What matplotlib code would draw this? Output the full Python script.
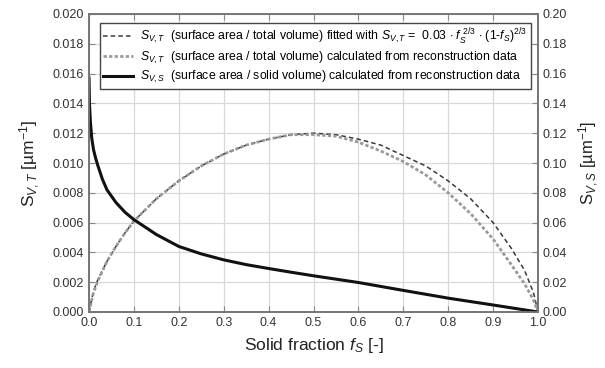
import matplotlib
matplotlib.use("Agg")
import matplotlib.pyplot as plt
import numpy as np

plt.rcParams['font.family'] = ['Liberation Sans', 'DejaVu Sans']
plt.rcParams['mathtext.fontset'] = 'custom'
plt.rcParams['mathtext.rm'] = 'Liberation Sans'
plt.rcParams['mathtext.it'] = 'Liberation Sans:italic'
plt.rcParams['mathtext.bf'] = 'Liberation Sans:bold'

# Solid fraction samples for the two S_V,T curves
fs_t = [0, 0.01, 0.02, 0.04, 0.06, 0.08, 0.1, 0.15, 0.2, 0.25, 0.3, 0.35, 0.4, 0.45,
        0.5, 0.55, 0.6, 0.65, 0.7, 0.75, 0.8, 0.85, 0.9, 0.94, 0.97, 0.99, 1.0]
# fitted S_V,T [1/um]
svt_fit = [0, 0.0014, 0.0022, 0.0034, 0.0044, 0.0053, 0.0061, 0.0076, 0.0088, 0.0098,
           0.0106, 0.0112, 0.0116, 0.0119, 0.0120, 0.0119, 0.0116, 0.0112, 0.0105,
           0.0098, 0.0088, 0.0076, 0.0060, 0.0043, 0.0028, 0.0013, 0.0]
# calculated S_V,T [1/um]
svt_calc = [0, 0.0013, 0.0021, 0.0034, 0.0044, 0.0053, 0.0061, 0.0076, 0.0088, 0.0098,
            0.0106, 0.0112, 0.0116, 0.0119, 0.0119, 0.0118, 0.0114, 0.0108, 0.0101,
            0.0092, 0.0080, 0.0066, 0.0049, 0.0032, 0.0019, 0.0008, 0.0]
# S_V,S (right axis) [1/um]
fs_s = [0, 0.001, 0.003, 0.006, 0.01, 0.015, 0.02, 0.03, 0.04, 0.06, 0.08, 0.1, 0.15,
        0.2, 0.25, 0.3, 0.35, 0.4, 0.45, 0.5, 0.6, 0.7, 0.8, 0.9, 1.0]
svs = [0.157, 0.140, 0.128, 0.117, 0.109, 0.103, 0.098, 0.089, 0.082, 0.0735, 0.067,
       0.062, 0.052, 0.0440, 0.0390, 0.0350, 0.0318, 0.0292, 0.0267, 0.0243, 0.0198,
       0.0145, 0.0093, 0.0047, 0.0]

xticks = np.round(np.arange(0, 1.01, 0.1), 1)
yticks_l = np.round(np.arange(0, 0.0201, 0.002), 3)
yticks_r = np.round(np.arange(0, 0.201, 0.02), 2)

fig = plt.figure(figsize=(6.05, 3.68), dpi=100)
ax = fig.add_axes([89/605, 1-312/368, (538-89)/605, (312-14)/368])
ax2 = ax.twinx()

l1, = ax.plot(fs_t, svt_fit, color='#3a3a3a', lw=1.1, ls=(0, (3, 2)))
l2, = ax.plot(fs_t, svt_calc, color='#9a9a9a', lw=2.0, ls=(0, (1.2, 0.8)))
l3, = ax2.plot(fs_s, svs, color='#111111', lw=2.2)

ax.set_xlim(0, 1)
ax.set_ylim(0, 0.02)
ax2.set_ylim(0, 0.2)
ax.set_xticks(xticks)
ax.set_xticklabels([f"{v:.1f}" for v in xticks])
ax.set_yticks(yticks_l)
ax.set_yticklabels([f"{v:.3f}" for v in yticks_l])
ax2.set_yticks(yticks_r)
ax2.set_yticklabels([f"{v:.2f}" for v in yticks_r])

ax.grid(True, color='#d8d8d8', lw=0.9)
ax.set_axisbelow(True)
for a in (ax, ax2):
    for s in a.spines.values():
        s.set_color('#777777')
        s.set_linewidth(1.3)
    a.tick_params(direction='in', length=4, width=0.8, color='#888888',
                  labelsize=9, labelcolor='#333333')
ax.tick_params(top=True)

ax.set_xlabel(r'Solid fraction $f_S$ [-]', fontsize=12.5, color='#222222', labelpad=5)
ax.set_ylabel(r'$\mathrm{S}_{V,T}$ [µm$^{\mathrm{-1}}$]', fontsize=12.5, color='#222222', labelpad=8)
ax2.set_ylabel(r'$\mathrm{S}_{V,S}$ [µm$^{\mathrm{-1}}$]', fontsize=12, color='#222222', labelpad=7)

labels = [
    r'$S_{V,T}$  (surface area / total volume) fitted with $S_{V,T}$ =  0.03 $\cdot$ $f_S^{\ 2/3}$ $\cdot$ (1-$f_S$)$^{2/3}$',
    r'$S_{V,T}$  (surface area / total volume) calculated from reconstruction data',
    r'$S_{V,S}$  (surface area / solid volume) calculated from reconstruction data',
]
leg = ax2.legend([l1, l2, l3], labels, loc='upper left', bbox_to_anchor=(0.01, 0.99),
                 fontsize=8.8, frameon=True, fancybox=False, edgecolor='#444444',
                 framealpha=1, handlelength=2.4, handletextpad=0.6, borderpad=0.3,
                 labelspacing=0.25)
leg.get_frame().set_linewidth(1.0)

fig.savefig('out.png', dpi=100)
